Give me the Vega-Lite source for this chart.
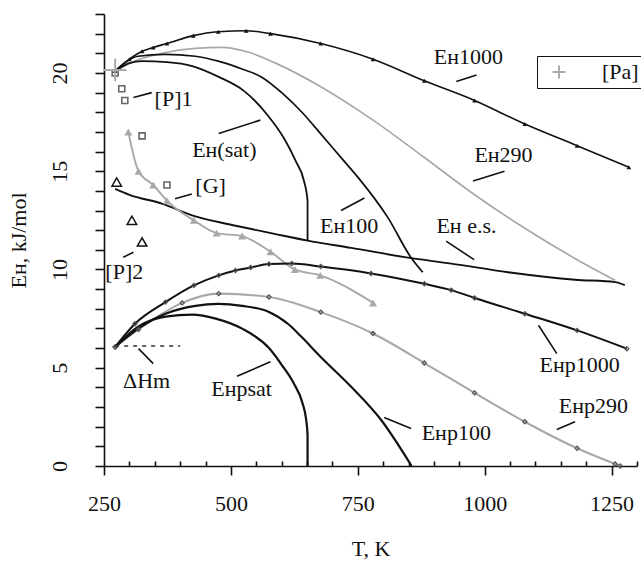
{
  "$schema": "https://vega.github.io/schema/vega-lite/v6.json",
  "autosize": {"type": "none"},
  "width": 533,
  "height": 452,
  "padding": {"left": 104, "top": 14, "right": 4, "bottom": 96},
  "background": "white",
  "config": {
    "view": {"stroke": null},
    "font": "Liberation Serif",
    "axis": {"grid": false, "domainColor": "#111", "tickColor": "#111", "labelColor": "#111", "titleColor": "#111", "labelFont": "Liberation Serif", "titleFont": "Liberation Serif", "labelFontSize": 22, "titleFontSize": 22, "titleFontWeight": "normal", "domainWidth": 1.6, "tickWidth": 1.6, "labelOverlap": false, "labelFlush": false}
  },
  "datasets": {
    "curves": [
      {"series": "EH1000", "i": 1, "T": 272, "E": 20.1},
      {"series": "EH1000", "i": 2, "T": 300, "E": 20.7},
      {"series": "EH1000", "i": 3, "T": 325, "E": 21.1},
      {"series": "EH1000", "i": 4, "T": 347, "E": 21.3},
      {"series": "EH1000", "i": 5, "T": 374, "E": 21.5},
      {"series": "EH1000", "i": 6, "T": 426, "E": 21.9},
      {"series": "EH1000", "i": 7, "T": 475, "E": 22.1},
      {"series": "EH1000", "i": 8, "T": 530, "E": 22.15},
      {"series": "EH1000", "i": 9, "T": 578, "E": 22.0},
      {"series": "EH1000", "i": 10, "T": 677, "E": 21.5},
      {"series": "EH1000", "i": 11, "T": 780, "E": 20.7},
      {"series": "EH1000", "i": 12, "T": 881, "E": 19.6},
      {"series": "EH1000", "i": 13, "T": 980, "E": 18.6},
      {"series": "EH1000", "i": 14, "T": 1079, "E": 17.4},
      {"series": "EH1000", "i": 15, "T": 1182, "E": 16.3},
      {"series": "EH1000", "i": 16, "T": 1284, "E": 15.2},

      {"series": "EH290", "i": 1, "T": 272, "E": 20.1},
      {"series": "EH290", "i": 2, "T": 310, "E": 20.6},
      {"series": "EH290", "i": 3, "T": 364, "E": 21.0},
      {"series": "EH290", "i": 4, "T": 430, "E": 21.25},
      {"series": "EH290", "i": 5, "T": 483, "E": 21.3},
      {"series": "EH290", "i": 6, "T": 535, "E": 21.05},
      {"series": "EH290", "i": 7, "T": 588, "E": 20.5},
      {"series": "EH290", "i": 8, "T": 677, "E": 19.3},
      {"series": "EH290", "i": 9, "T": 780, "E": 17.6},
      {"series": "EH290", "i": 10, "T": 881, "E": 15.7},
      {"series": "EH290", "i": 11, "T": 980, "E": 13.8},
      {"series": "EH290", "i": 12, "T": 1079, "E": 12.1},
      {"series": "EH290", "i": 13, "T": 1182, "E": 10.5},
      {"series": "EH290", "i": 14, "T": 1257, "E": 9.45},

      {"series": "EH100", "i": 1, "T": 272, "E": 20.1},
      {"series": "EH100", "i": 2, "T": 317, "E": 20.85},
      {"series": "EH100", "i": 3, "T": 370, "E": 20.95},
      {"series": "EH100", "i": 4, "T": 430, "E": 20.85},
      {"series": "EH100", "i": 5, "T": 475, "E": 20.6},
      {"series": "EH100", "i": 6, "T": 522, "E": 20.2},
      {"series": "EH100", "i": 7, "T": 560, "E": 19.8},
      {"series": "EH100", "i": 8, "T": 600, "E": 19.0},
      {"series": "EH100", "i": 9, "T": 640, "E": 18.0},
      {"series": "EH100", "i": 10, "T": 677, "E": 16.9},
      {"series": "EH100", "i": 11, "T": 720, "E": 15.6},
      {"series": "EH100", "i": 12, "T": 750, "E": 14.7},
      {"series": "EH100", "i": 13, "T": 809, "E": 12.65},
      {"series": "EH100", "i": 14, "T": 855, "E": 10.6},
      {"series": "EH100", "i": 15, "T": 878, "E": 9.86},

      {"series": "EHsat", "i": 1, "T": 272, "E": 20.1},
      {"series": "EHsat", "i": 2, "T": 300, "E": 20.5},
      {"series": "EHsat", "i": 3, "T": 325, "E": 20.6},
      {"series": "EHsat", "i": 4, "T": 374, "E": 20.55},
      {"series": "EHsat", "i": 5, "T": 424, "E": 20.35},
      {"series": "EHsat", "i": 6, "T": 476, "E": 19.8},
      {"series": "EHsat", "i": 7, "T": 525, "E": 19.1},
      {"series": "EHsat", "i": 8, "T": 574, "E": 17.8},
      {"series": "EHsat", "i": 9, "T": 604, "E": 16.7},
      {"series": "EHsat", "i": 10, "T": 628, "E": 15.5},
      {"series": "EHsat", "i": 11, "T": 644, "E": 14.5},
      {"series": "EHsat", "i": 12, "T": 651, "E": 13.5},
      {"series": "EHsat", "i": 13, "T": 651, "E": 11.5},

      {"series": "EHes", "i": 1, "T": 272, "E": 14.1},
      {"series": "EHes", "i": 2, "T": 300, "E": 13.8},
      {"series": "EHes", "i": 3, "T": 364, "E": 13.35},
      {"series": "EHes", "i": 4, "T": 430, "E": 12.7},
      {"series": "EHes", "i": 5, "T": 496, "E": 12.3},
      {"series": "EHes", "i": 6, "T": 588, "E": 11.8},
      {"series": "EHes", "i": 7, "T": 651, "E": 11.47},
      {"series": "EHes", "i": 8, "T": 737, "E": 11.1},
      {"series": "EHes", "i": 9, "T": 849, "E": 10.6},
      {"series": "EHes", "i": 10, "T": 934, "E": 10.3},
      {"series": "EHes", "i": 11, "T": 1046, "E": 9.86},
      {"series": "EHes", "i": 12, "T": 1178, "E": 9.48},
      {"series": "EHes", "i": 13, "T": 1257, "E": 9.36},
      {"series": "EHes", "i": 14, "T": 1276, "E": 9.2},

      {"series": "G", "i": 1, "T": 298, "E": 17.0},
      {"series": "G", "i": 2, "T": 318, "E": 15.0},
      {"series": "G", "i": 3, "T": 347, "E": 14.3},
      {"series": "G", "i": 4, "T": 374, "E": 13.5},
      {"series": "G", "i": 5, "T": 427, "E": 12.5},
      {"series": "G", "i": 6, "T": 472, "E": 11.85},
      {"series": "G", "i": 7, "T": 522, "E": 11.7},
      {"series": "G", "i": 8, "T": 578, "E": 10.9},
      {"series": "G", "i": 9, "T": 626, "E": 10.0},
      {"series": "G", "i": 10, "T": 676, "E": 9.7},
      {"series": "G", "i": 11, "T": 780, "E": 8.3},

      {"series": "EHp1000", "i": 1, "T": 272, "E": 6.06},
      {"series": "EHp1000", "i": 2, "T": 311, "E": 7.24},
      {"series": "EHp1000", "i": 3, "T": 371, "E": 8.34},
      {"series": "EHp1000", "i": 4, "T": 427, "E": 9.19},
      {"series": "EHp1000", "i": 5, "T": 476, "E": 9.7},
      {"series": "EHp1000", "i": 6, "T": 509, "E": 9.95},
      {"series": "EHp1000", "i": 7, "T": 539, "E": 10.1},
      {"series": "EHp1000", "i": 8, "T": 575, "E": 10.28},
      {"series": "EHp1000", "i": 9, "T": 620, "E": 10.3},
      {"series": "EHp1000", "i": 10, "T": 677, "E": 10.15},
      {"series": "EHp1000", "i": 11, "T": 776, "E": 9.8},
      {"series": "EHp1000", "i": 12, "T": 881, "E": 9.27},
      {"series": "EHp1000", "i": 13, "T": 934, "E": 8.95},
      {"series": "EHp1000", "i": 14, "T": 980, "E": 8.55},
      {"series": "EHp1000", "i": 15, "T": 1079, "E": 7.75},
      {"series": "EHp1000", "i": 16, "T": 1182, "E": 6.9},
      {"series": "EHp1000", "i": 17, "T": 1280, "E": 5.97},

      {"series": "EHp290", "i": 1, "T": 272, "E": 6.06},
      {"series": "EHp290", "i": 2, "T": 318, "E": 6.95},
      {"series": "EHp290", "i": 3, "T": 404, "E": 8.3},
      {"series": "EHp290", "i": 4, "T": 476, "E": 8.77},
      {"series": "EHp290", "i": 5, "T": 575, "E": 8.6},
      {"series": "EHp290", "i": 6, "T": 677, "E": 7.83},
      {"series": "EHp290", "i": 7, "T": 780, "E": 6.74},
      {"series": "EHp290", "i": 8, "T": 881, "E": 5.24},
      {"series": "EHp290", "i": 9, "T": 980, "E": 3.72},
      {"series": "EHp290", "i": 10, "T": 1079, "E": 2.25},
      {"series": "EHp290", "i": 11, "T": 1182, "E": 0.9},
      {"series": "EHp290", "i": 12, "T": 1257, "E": 0.1},
      {"series": "EHp290", "i": 13, "T": 1267, "E": 0.0},

      {"series": "EHp100", "i": 1, "T": 272, "E": 6.06},
      {"series": "EHp100", "i": 2, "T": 318, "E": 7.0},
      {"series": "EHp100", "i": 3, "T": 371, "E": 7.75},
      {"series": "EHp100", "i": 4, "T": 430, "E": 8.15},
      {"series": "EHp100", "i": 5, "T": 475, "E": 8.25},
      {"series": "EHp100", "i": 6, "T": 522, "E": 8.15},
      {"series": "EHp100", "i": 7, "T": 574, "E": 7.85},
      {"series": "EHp100", "i": 8, "T": 614, "E": 7.2},
      {"series": "EHp100", "i": 9, "T": 638, "E": 6.6},
      {"series": "EHp100", "i": 10, "T": 677, "E": 5.55},
      {"series": "EHp100", "i": 11, "T": 737, "E": 4.03},
      {"series": "EHp100", "i": 12, "T": 796, "E": 2.34},
      {"series": "EHp100", "i": 13, "T": 856, "E": 0.0},

      {"series": "EHpsat", "i": 1, "T": 272, "E": 6.06},
      {"series": "EHpsat", "i": 2, "T": 318, "E": 7.1},
      {"series": "EHpsat", "i": 3, "T": 371, "E": 7.6},
      {"series": "EHpsat", "i": 4, "T": 424, "E": 7.7},
      {"series": "EHpsat", "i": 5, "T": 470, "E": 7.5},
      {"series": "EHpsat", "i": 6, "T": 522, "E": 6.99},
      {"series": "EHpsat", "i": 7, "T": 575, "E": 6.0},
      {"series": "EHpsat", "i": 8, "T": 600, "E": 5.15},
      {"series": "EHpsat", "i": 9, "T": 624, "E": 4.2},
      {"series": "EHpsat", "i": 10, "T": 641, "E": 3.2},
      {"series": "EHpsat", "i": 11, "T": 648, "E": 2.4},
      {"series": "EHpsat", "i": 12, "T": 651, "E": 1.6},
      {"series": "EHpsat", "i": 13, "T": 651, "E": 0.0}
    ],
    "hm": [
      {"T": 272, "E": 6.1},
      {"T": 400, "E": 6.1}
    ],
    "labels": [
      {"text": "Eн1000", "T": 968, "E": 20.8},
      {"text": "Eн290", "T": 1037, "E": 15.85},
      {"text": "Eн100", "T": 733, "E": 12.2},
      {"text": "Eн e.s.", "T": 964, "E": 12.2},
      {"text": "Eн(sat)", "T": 487, "E": 16.1},
      {"text": "[P]1", "T": 387, "E": 18.7},
      {"text": "[G]", "T": 460, "E": 14.25},
      {"text": "[P]2", "T": 290, "E": 9.85},
      {"text": "ΔHm", "T": 334, "E": 4.35},
      {"text": "Eнpsat", "T": 521, "E": 3.9},
      {"text": "Eнp100", "T": 944, "E": 1.7},
      {"text": "Eнp290", "T": 1214, "E": 3.05},
      {"text": "Eнp1000", "T": 1187, "E": 5.13}
    ],
    "leaders": [
      {"T": 944, "E": 19.56, "T2": 984, "E2": 19.9},
      {"T": 977, "E": 14.5, "T2": 1039, "E2": 15.0},
      {"T": 717, "E": 13.0, "T2": 763, "E2": 13.64},
      {"T": 924, "E": 11.44, "T2": 979, "E2": 10.5},
      {"T": 476, "E": 16.92, "T2": 558, "E2": 17.6},
      {"T": 308, "E": 18.75, "T2": 344, "E2": 19.0},
      {"T": 390, "E": 13.6, "T2": 423, "E2": 13.84},
      {"T": 288, "E": 10.62, "T2": 308, "E2": 10.88},
      {"T": 318, "E": 5.97, "T2": 347, "E2": 5.21},
      {"T": 512, "E": 4.57, "T2": 578, "E2": 5.3},
      {"T": 802, "E": 2.47, "T2": 855, "E2": 1.91},
      {"T": 1142, "E": 1.86, "T2": 1178, "E2": 2.25},
      {"T": 1106, "E": 7.16, "T2": 1142, "E2": 5.72}
    ],
    "squares": [
      {"set": "[P]1", "T": 272, "E": 20.0},
      {"set": "[P]1", "T": 285, "E": 19.2},
      {"set": "[P]1", "T": 291, "E": 18.6},
      {"set": "[G]", "T": 325, "E": 16.8},
      {"set": "[G]", "T": 374, "E": 14.3}
    ],
    "triangles": [
      {"set": "[P]2", "T": 275, "E": 14.45},
      {"set": "[P]2", "T": 305, "E": 12.5},
      {"set": "[P]2", "T": 325, "E": 11.4}
    ],
    "pa": [
      {"set": "[Pa]", "T": 272, "E": 20.15}
    ]
  },
  "encoding": {
    "x": {"field": "T", "type": "quantitative", "scale": {"domain": [250, 1300], "nice": false, "zero": false},
      "axis": {"values": [250,300,350,400,450,500,550,600,650,700,750,800,850,900,950,1000,1050,1100,1150,1200,1250,1300], "format": "d",
        "labelOpacity": {"condition": {"test": "datum.value % 250 === 0", "value": 1}, "value": 0},
        "tickSize": {"condition": {"test": "datum.value % 250 === 0", "value": 9}, "value": -5}, "labelPadding": 18, "title": "T, K", "titlePadding": 24}},
    "y": {"field": "E", "type": "quantitative", "scale": {"domain": [0, 23], "nice": false},
      "axis": {"values": [0,1,2,3,4,5,6,7,8,9,10,11,12,13,14,15,16,17,18,19,20,21,22,23],
        "labelOpacity": {"condition": {"test": "datum.value % 5 === 0", "value": 1}, "value": 0},
        "tickSize": 9, "labelAngle": 270, "labelPadding": 24, "title": "Eн, kJ/mol", "titlePadding": 18}}
  },
  "layer": [
    {
      "data": {"name": "curves"},
      "mark": {"type": "line", "interpolate": "monotone"},
      "encoding": {
        "detail": {"field": "series"},
        "order": {"field": "i", "type": "quantitative"},
        "color": {"field": "series", "type": "nominal", "legend": null,
          "scale": {"domain": ["EH1000","EH290","EH100","EHsat","EHes","G","EHp1000","EHp290","EHp100","EHpsat"],
                    "range": ["#111","#a8a8a8","#111","#111","#111","#a8a8a8","#111","#a8a8a8","#111","#111"]}},
        "strokeWidth": {"field": "series", "type": "nominal", "legend": null,
          "scale": {"domain": ["EH1000","EH290","EH100","EHsat","EHes","G","EHp1000","EHp290","EHp100","EHpsat"],
                    "range": [1.6,2.2,1.6,1.6,1.8,2.2,1.8,2.2,1.5,1.5]}}
      }
    },
    {
      "data": {"name": "curves"},
      "transform": [{"filter": "datum.series === 'EH1000'"}],
      "mark": {"type": "point", "shape": "triangle-up", "filled": true, "color": "#111", "size": 22, "opacity": 1}
    },
    {
      "data": {"name": "curves"},
      "transform": [{"filter": "datum.series === 'EHp290' || datum.series === 'EHp1000'"}],
      "mark": {"type": "point", "shape": "diamond", "filled": false, "color": "#555", "size": 18, "strokeWidth": 1.2, "opacity": 1}
    },
    {
      "data": {"name": "curves"},
      "transform": [{"filter": "datum.series === 'G'"}],
      "mark": {"type": "point", "shape": "triangle-up", "filled": true, "color": "#a8a8a8", "size": 65, "opacity": 1}
    },
    {
      "data": {"name": "hm"},
      "mark": {"type": "line", "color": "#333", "strokeDash": [4, 5], "strokeWidth": 1.5}
    },
    {
      "data": {"name": "leaders"},
      "mark": {"type": "rule", "color": "#111", "strokeWidth": 1.6},
      "encoding": {"x2": {"field": "T2"}, "y2": {"field": "E2"}}
    },
    {
      "data": {"name": "labels"},
      "mark": {"type": "text", "font": "Liberation Serif", "fontSize": 22, "color": "#111", "align": "center", "baseline": "middle"},
      "encoding": {"text": {"field": "text"}}
    },
    {
      "data": {"name": "squares"},
      "mark": {"type": "point", "shape": "square", "filled": false, "color": "#666", "size": 36, "strokeWidth": 1.6, "opacity": 1}
    },
    {
      "data": {"name": "triangles"},
      "mark": {"type": "point", "shape": "triangle-up", "filled": false, "color": "#111", "size": 90, "strokeWidth": 1.5, "opacity": 1}
    },
    {
      "data": {"name": "pa"},
      "mark": {"type": "point", "filled": false, "color": "#aaa", "size": 500, "strokeWidth": 2, "opacity": 1},
      "encoding": {
        "shape": {"field": "set", "type": "nominal", "scale": {"domain": ["[Pa]"], "range": ["M-1,0L1,0M0,-1L0,1"]},
          "legend": {"title": null, "orient": "none", "legendX": 433, "legendY": 42, "strokeColor": "#111", "padding": 5, "symbolSize": 170, "symbolStrokeColor": "#aaa", "symbolStrokeWidth": 2, "symbolFillColor": "transparent", "labelFont": "Liberation Serif", "labelFontSize": 22, "labelColor": "#111", "labelOffset": 32, "symbolOffset": 6}}
      }
    }
  ]
}
